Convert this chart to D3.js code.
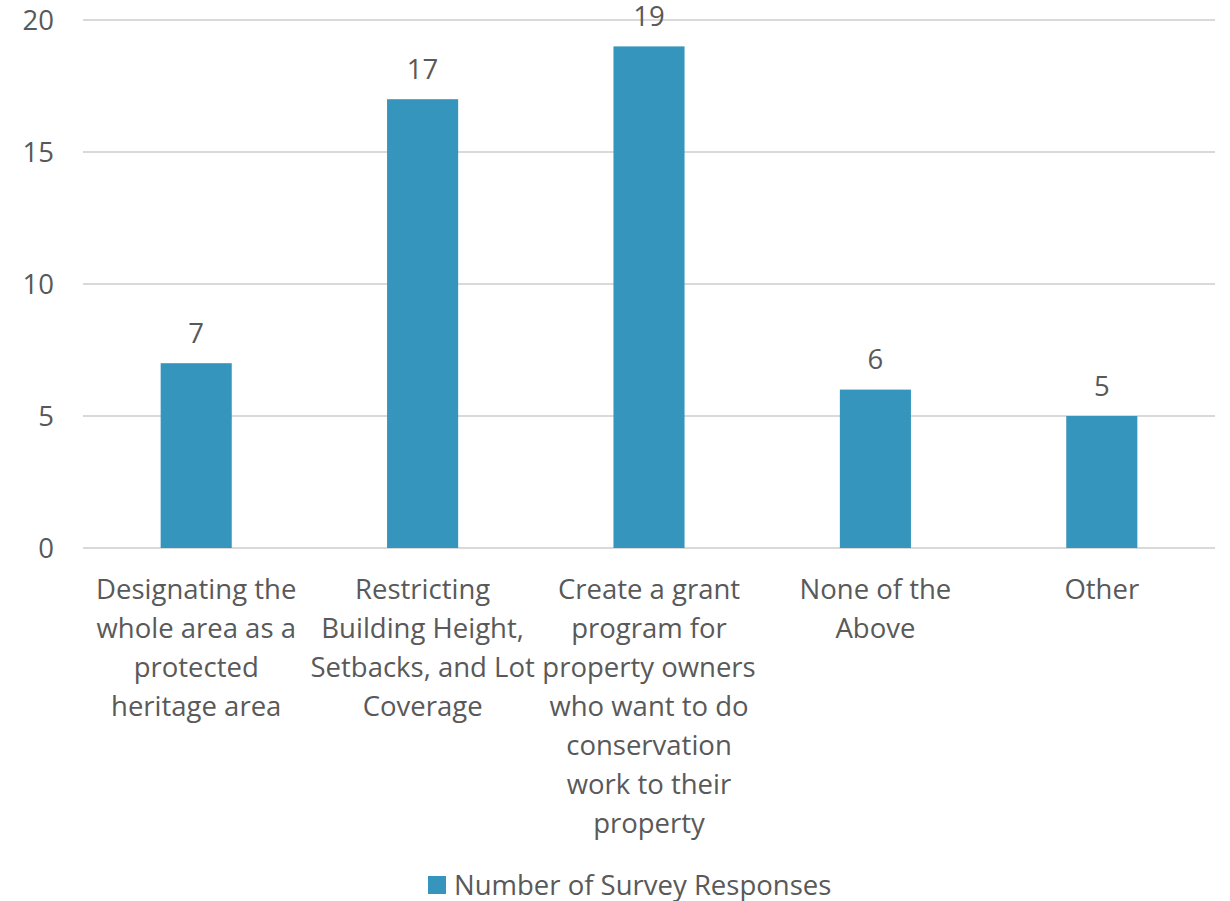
<!DOCTYPE html>
<html>
<head>
<meta charset="utf-8">
<script src="https://cdn.jsdelivr.net/npm/d3@7"></script>
<style>
  body { margin: 0; background: #fff; }
  text { font-family: "Open Sans", sans-serif; fill: #595959; }
</style>
</head>
<body>
<div id="chart"></div>
<script>
var width = 1230;
var height = 901;

var categories = [
  "Designating the whole area as a protected heritage area",
  "Restricting Building Height, Setbacks, and Lot Coverage",
  "Create a grant program for property owners who want to do conservation work to their property",
  "None of the Above",
  "Other"
];
var labelLines = [
  ["Designating the", "whole area as a", "protected", "heritage area"],
  ["Restricting", "Building Height,", "Setbacks, and Lot", "Coverage"],
  ["Create a grant", "program for", "property owners", "who want to do", "conservation", "work to their", "property"],
  ["None of the", "Above"],
  ["Other"]
];
var responses = [7, 17, 19, 6, 5];
var yTicks = [0, 5, 10, 15, 20];
var seriesName = "Number of Survey Responses";

var barColor = "#3595bc";
var fontSize = "27.5px";

var svg = d3.select("#chart")
  .append("svg")
  .attr("width", width)
  .attr("height", height);

var xScale = d3.scaleBand()
  .domain(categories)
  .range([83, 1215])
  .paddingInner(0.686)
  .paddingOuter(0.343);

var yScale = d3.scaleLinear().domain([0, 20]).range([548, 20]);

// gridlines
svg.append("g")
  .selectAll("line")
  .data(yTicks)
  .enter()
  .append("line")
  .attr("x1", 83)
  .attr("x2", 1215)
  .attr("y1", function(d) { return yScale(d); })
  .attr("y2", function(d) { return yScale(d); })
  .attr("stroke", "#d9d9d9")
  .attr("stroke-width", 2);

// y tick labels
svg.append("g")
  .selectAll("text")
  .data(yTicks)
  .enter()
  .append("text")
  .attr("x", 54)
  .attr("y", function(d) { return yScale(d); })
  .attr("dy", "0.35em")
  .attr("text-anchor", "end")
  .style("font-size", fontSize)
  .text(function(d) { return d; });

// bars
svg.append("g")
  .selectAll("rect")
  .data(responses)
  .enter()
  .append("rect")
  .attr("x", function(d, i) { return xScale(categories[i]); })
  .attr("y", function(d) { return yScale(d); })
  .attr("width", xScale.bandwidth())
  .attr("height", function(d) { return yScale(0) - yScale(d); })
  .attr("fill", barColor);

// value labels
svg.append("g")
  .selectAll("text")
  .data(responses)
  .enter()
  .append("text")
  .attr("x", function(d, i) { return xScale(categories[i]) + xScale.bandwidth() / 2; })
  .attr("y", function(d) { return yScale(d) - 30; })
  .attr("dy", "0.35em")
  .attr("text-anchor", "middle")
  .style("font-size", fontSize)
  .text(function(d) { return d; });

// category labels
var catLabels = svg.append("g")
  .selectAll("text")
  .data(categories)
  .enter()
  .append("text")
  .attr("text-anchor", "middle")
  .style("font-size", fontSize)
  .attr("transform", function(d) {
    return "translate(" + (xScale(d) + xScale.bandwidth() / 2) + ",589)";
  });

catLabels.selectAll("tspan")
  .data(function(d, i) { return labelLines[i]; })
  .enter()
  .append("tspan")
  .attr("x", 0)
  .attr("y", function(d, j) { return j * 39; })
  .attr("dy", "0.35em")
  .text(function(d) { return d; });

// legend
var legend = svg.append("g").attr("transform", "translate(428,876)");
legend.append("rect")
  .attr("width", 18)
  .attr("height", 18)
  .attr("fill", barColor);
legend.append("text")
  .attr("x", 26)
  .attr("y", 9)
  .attr("dy", "0.35em")
  .style("font-size", fontSize)
  .text(seriesName);
</script>
</body>
</html>
